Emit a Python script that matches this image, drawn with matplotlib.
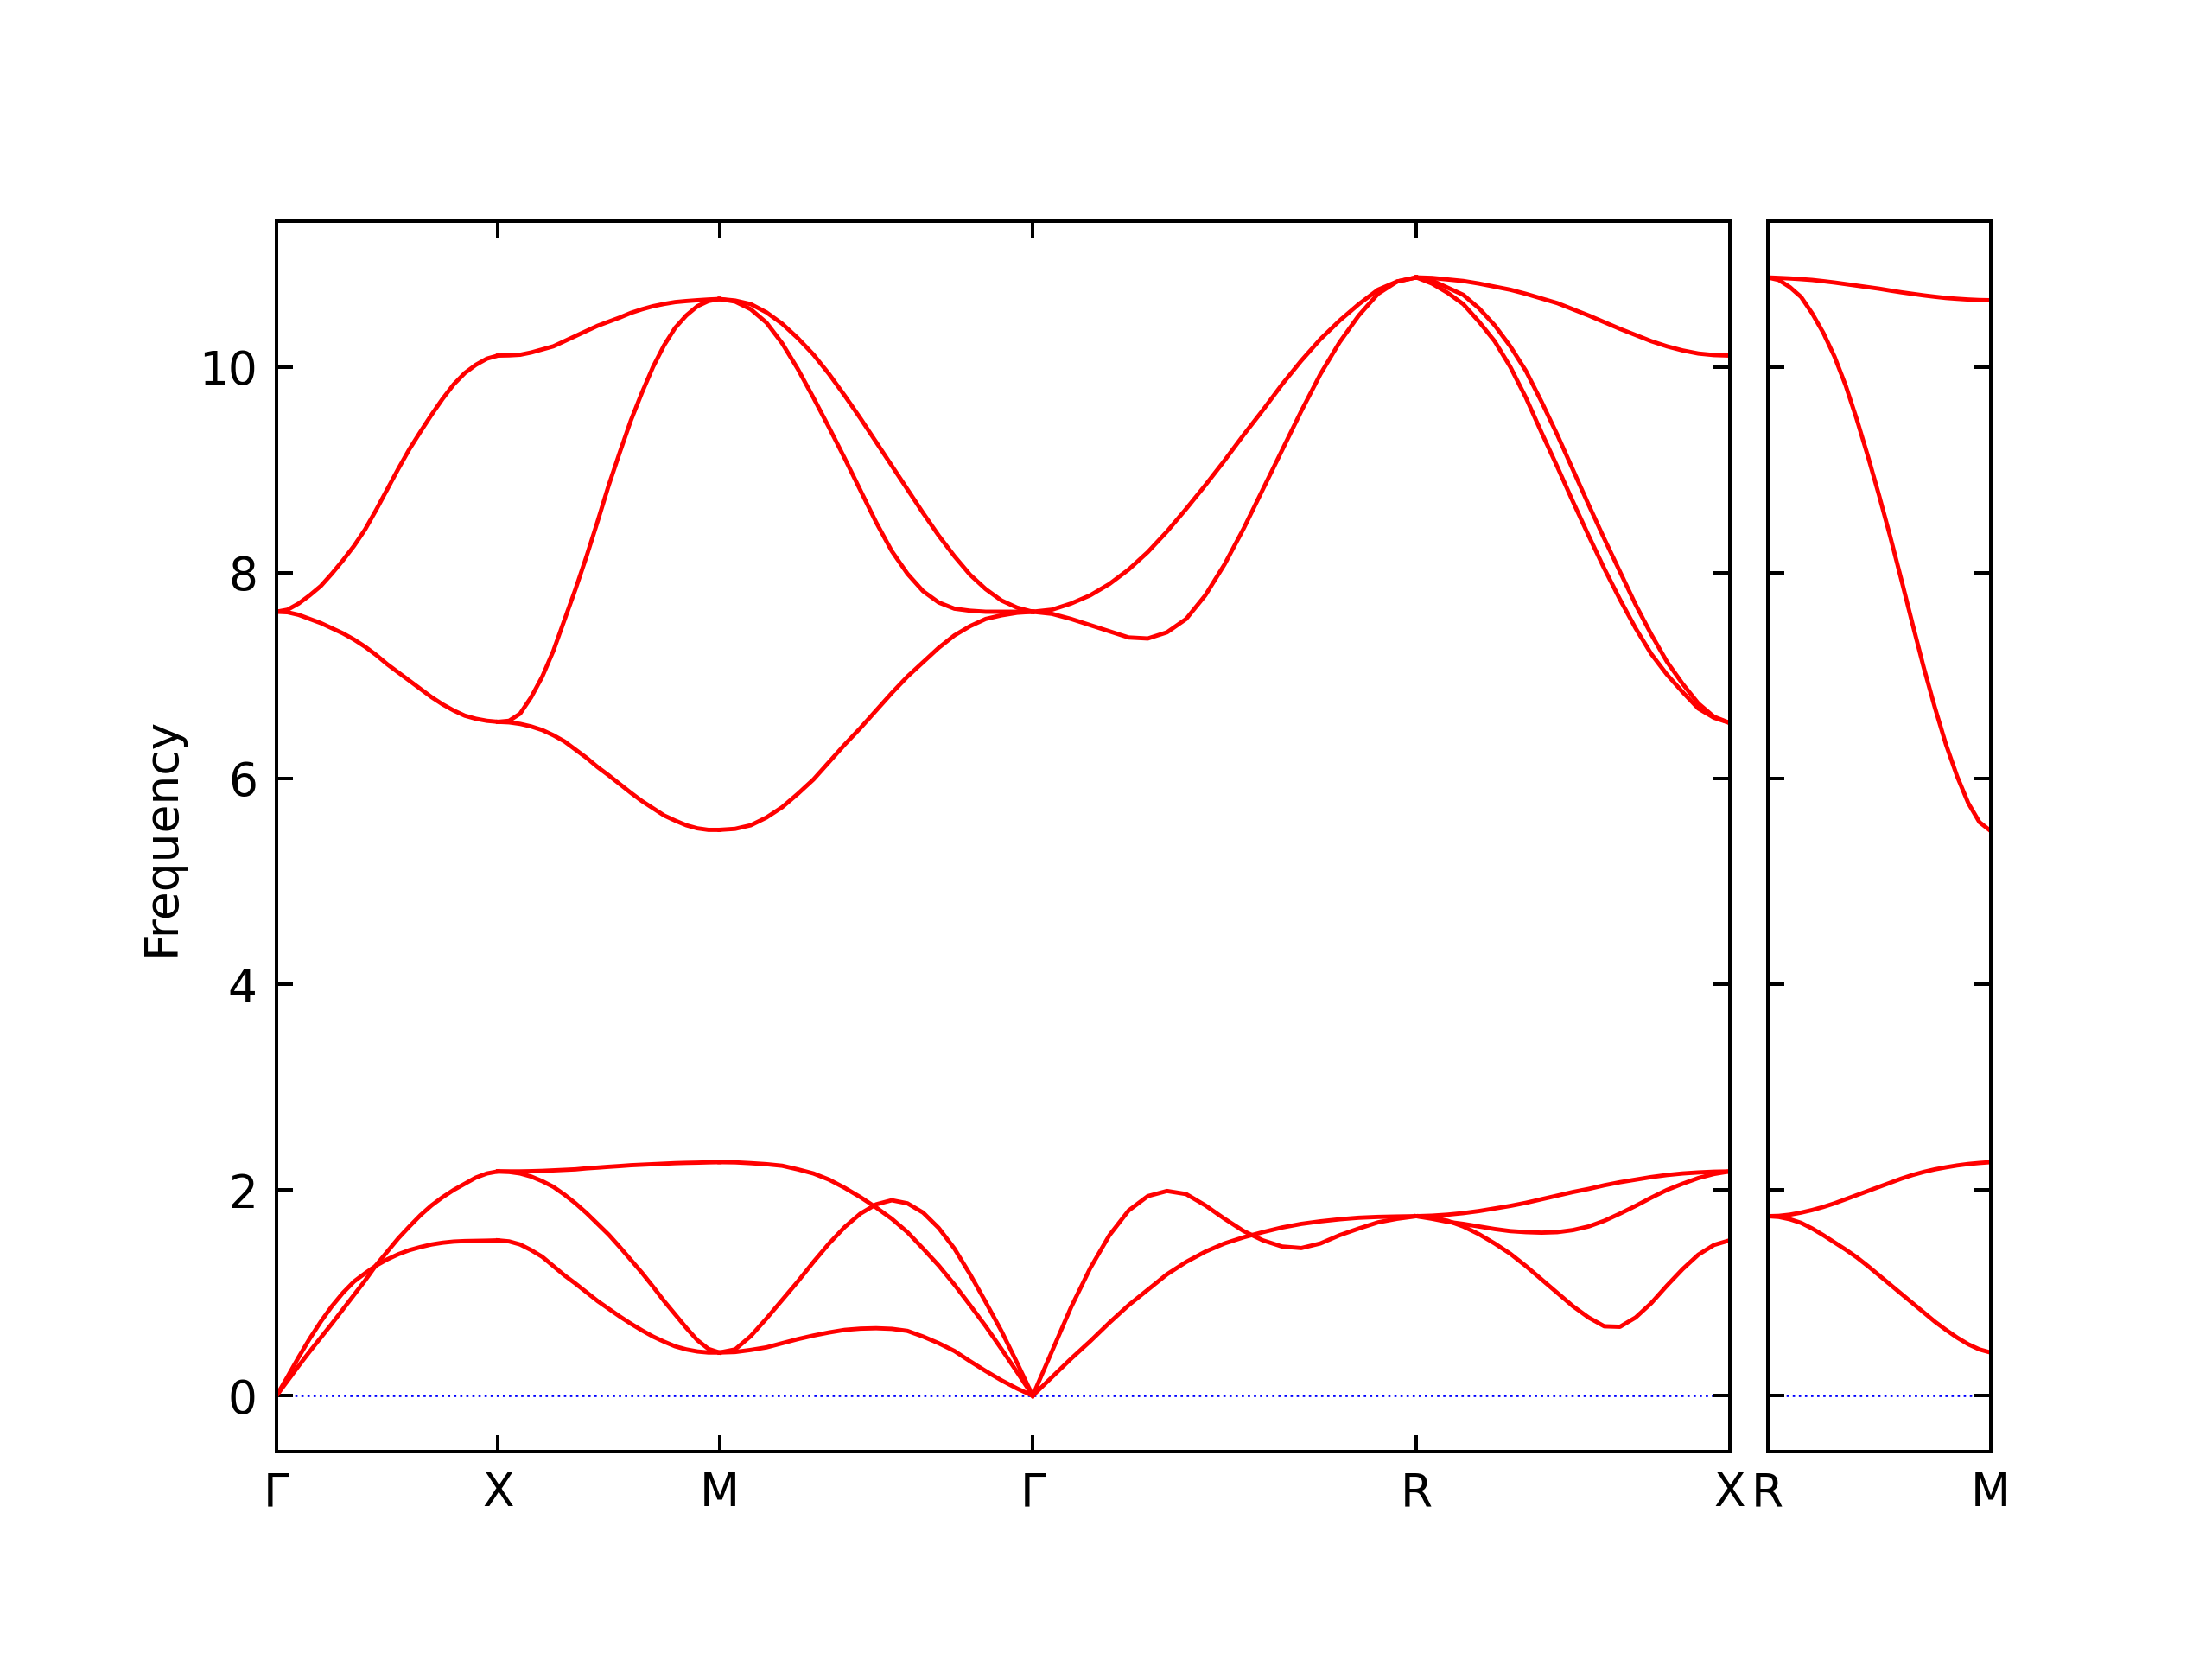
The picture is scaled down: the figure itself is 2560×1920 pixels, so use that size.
import matplotlib
matplotlib.use("Agg")
import matplotlib.pyplot as plt

# ---------------- data ----------------
labels_main = ["Γ", "X", "M", "Γ", "R", "X"]
labels_side = ["R", "M"]
seg_len_main = [0.5, 0.5, 0.7071, 0.8660, 0.7071]   # Γ-X, X-M, M-Γ, Γ-R, R-X
seg_len_side = [0.5]                                # R-M

# fractional position along each path segment
T = [0, .05, .1, .15, .2, .25, .3, .35, .4, .45, .5, .55, .6, .65, .7, .75, .8, .85, .9, .95, 1]

# Γ-X
GX_o1 = [7.62, 7.64, 7.70, 7.78, 7.87, 7.99, 8.12, 8.26, 8.42, 8.61, 8.81,
         9.01, 9.20, 9.37, 9.535, 9.69, 9.83, 9.94, 10.02, 10.08, 10.11]
GX_o2 = [7.62, 7.615, 7.59, 7.55, 7.51, 7.46, 7.41, 7.35, 7.28, 7.20, 7.11,
         7.03, 6.95, 6.87, 6.79, 6.72, 6.66, 6.61, 6.58, 6.56, 6.55]
GX_a1 = [0, 0.185, 0.375, 0.555, 0.72, 0.87, 1.00, 1.11, 1.19, 1.265, 1.325,
         1.375, 1.415, 1.445, 1.47, 1.487, 1.498, 1.503, 1.505, 1.507, 1.51]
GX_a2 = [0, 0.145, 0.29, 0.43, 0.565, 0.70, 0.84, 0.98, 1.12, 1.27, 1.40,
         1.53, 1.645, 1.755, 1.85, 1.93, 2.00, 2.06, 2.12, 2.16, 2.18]

# X-M
XM_o1 = [10.11, 10.112, 10.118, 10.14, 10.17, 10.20, 10.25, 10.30, 10.35, 10.40, 10.44,
         10.48, 10.525, 10.56, 10.59, 10.612, 10.63, 10.64, 10.648, 10.655, 10.66]
XM_o2 = [6.55, 6.56, 6.63, 6.79, 6.99, 7.24, 7.54, 7.84, 8.16, 8.50, 8.85,
         9.17, 9.48, 9.75, 10.00, 10.21, 10.38, 10.50, 10.59, 10.64, 10.66]
XM_o3 = [6.55, 6.545, 6.53, 6.505, 6.47, 6.42, 6.36, 6.28, 6.20, 6.11, 6.03,
         5.945, 5.86, 5.78, 5.71, 5.64, 5.59, 5.545, 5.515, 5.50, 5.50]
XM_a1 = [2.18, 2.18, 2.18, 2.182, 2.185, 2.19, 2.195, 2.20, 2.21, 2.217, 2.225,
         2.232, 2.24, 2.245, 2.25, 2.255, 2.26, 2.263, 2.265, 2.268, 2.27]
XM_a2 = [2.18, 2.175, 2.16, 2.13, 2.085, 2.03, 1.955, 1.87, 1.775, 1.67, 1.565,
         1.445, 1.32, 1.195, 1.06, 0.92, 0.79, 0.66, 0.54, 0.455, 0.42]
XM_a3 = [1.51, 1.50, 1.47, 1.415, 1.35, 1.26, 1.17, 1.09, 1.005, 0.92, 0.845,
         0.77, 0.70, 0.635, 0.575, 0.525, 0.48, 0.45, 0.43, 0.42, 0.42]

# M-Γ
MG_o1 = [10.66, 10.645, 10.61, 10.53, 10.42, 10.28, 10.12, 9.93, 9.72, 9.50, 9.27,
         9.04, 8.81, 8.58, 8.36, 8.16, 7.98, 7.84, 7.73, 7.66, 7.62]
MG_o2 = [10.66, 10.635, 10.56, 10.43, 10.23, 9.98, 9.70, 9.41, 9.11, 8.80, 8.49,
         8.21, 7.99, 7.82, 7.71, 7.65, 7.63, 7.62, 7.62, 7.62, 7.62]
MG_o3 = [5.50, 5.51, 5.545, 5.62, 5.72, 5.85, 5.99, 6.16, 6.33, 6.49, 6.66,
         6.83, 6.99, 7.13, 7.27, 7.39, 7.48, 7.55, 7.585, 7.61, 7.62]
MG_a1 = [2.27, 2.268, 2.26, 2.25, 2.235, 2.20, 2.16, 2.10, 2.02, 1.93, 1.83,
         1.72, 1.59, 1.43, 1.265, 1.08, 0.88, 0.675, 0.455, 0.23, 0]
MG_a2 = [0.42, 0.45, 0.58, 0.75, 0.93, 1.11, 1.30, 1.48, 1.64, 1.77, 1.86,
         1.90, 1.87, 1.78, 1.63, 1.43, 1.18, 0.91, 0.63, 0.32, 0]
MG_a3 = [0.42, 0.425, 0.445, 0.47, 0.51, 0.55, 0.585, 0.615, 0.64, 0.652, 0.656,
         0.65, 0.63, 0.575, 0.51, 0.435, 0.335, 0.24, 0.15, 0.07, 0]

# Γ-R
GR_o1 = [7.62, 7.64, 7.70, 7.78, 7.89, 8.03, 8.20, 8.40, 8.62, 8.85, 9.09,
         9.34, 9.58, 9.83, 10.06, 10.27, 10.45, 10.61, 10.75, 10.83, 10.87]
GR_o2 = [7.62, 7.60, 7.55, 7.49, 7.43, 7.37, 7.36, 7.42, 7.55, 7.78, 8.08,
         8.43, 8.81, 9.19, 9.57, 9.93, 10.24, 10.50, 10.71, 10.83, 10.87]
GR_a1 = [0, 0.43, 0.86, 1.24, 1.56, 1.80, 1.94, 1.99, 1.96, 1.85, 1.72,
         1.60, 1.51, 1.45, 1.435, 1.48, 1.56, 1.625, 1.685, 1.72, 1.745]
GR_a2 = [0, 0.18, 0.36, 0.53, 0.71, 0.88, 1.03, 1.18, 1.30, 1.40, 1.48,
         1.54, 1.59, 1.635, 1.67, 1.695, 1.715, 1.73, 1.738, 1.742, 1.745]

# R-X
RX_o1 = [10.87, 10.865, 10.85, 10.835, 10.81, 10.78, 10.75, 10.71, 10.665, 10.62, 10.56,
         10.50, 10.435, 10.37, 10.31, 10.25, 10.20, 10.16, 10.13, 10.115, 10.11]
RX_o2 = [10.87, 10.84, 10.77, 10.70, 10.57, 10.405, 10.20, 9.96, 9.66, 9.34, 9.00,
         8.66, 8.33, 8.01, 7.69, 7.40, 7.135, 6.92, 6.73, 6.60, 6.54]
RX_o3 = [10.87, 10.81, 10.72, 10.61, 10.44, 10.25, 10.00, 9.70, 9.36, 9.03, 8.69,
         8.36, 8.04, 7.74, 7.46, 7.21, 7.01, 6.84, 6.68, 6.59, 6.54]
RX_a1 = [1.745, 1.75, 1.76, 1.775, 1.795, 1.82, 1.845, 1.875, 1.91, 1.945, 1.98,
         2.01, 2.045, 2.075, 2.10, 2.125, 2.145, 2.16, 2.17, 2.177, 2.18]
RX_a2 = [1.745, 1.72, 1.69, 1.67, 1.645, 1.62, 1.60, 1.59, 1.585, 1.59, 1.61,
         1.645, 1.70, 1.77, 1.845, 1.925, 2.00, 2.06, 2.115, 2.155, 2.18]
RX_a3 = [1.745, 1.735, 1.70, 1.645, 1.57, 1.48, 1.38, 1.26, 1.13, 1.00, 0.87,
         0.76, 0.675, 0.67, 0.76, 0.90, 1.07, 1.23, 1.37, 1.465, 1.51]

# R-M
RM_o1 = [10.87, 10.865, 10.86, 10.853, 10.845, 10.833, 10.82, 10.805, 10.79, 10.775, 10.76,
         10.742, 10.725, 10.71, 10.695, 10.682, 10.67, 10.662, 10.655, 10.65, 10.648]
RM_o2 = [10.87, 10.845, 10.775, 10.68, 10.52, 10.33, 10.10, 9.82, 9.49, 9.13, 8.75,
         8.35, 7.93, 7.50, 7.08, 6.69, 6.33, 6.02, 5.76, 5.575, 5.49]
RM_a1 = [1.745, 1.748, 1.76, 1.78, 1.805, 1.835, 1.87, 1.91, 1.95, 1.99, 2.03,
         2.07, 2.11, 2.145, 2.175, 2.20, 2.22, 2.238, 2.252, 2.262, 2.27]
RM_a2 = [1.745, 1.738, 1.715, 1.68, 1.625, 1.56, 1.49, 1.42, 1.345, 1.26, 1.17,
         1.08, 0.99, 0.90, 0.81, 0.72, 0.64, 0.565, 0.50, 0.45, 0.42]

main_segments = [
    [GX_o1, GX_o2, GX_a1, GX_a2],
    [XM_o1, XM_o2, XM_o3, XM_a1, XM_a2, XM_a3],
    [MG_o1, MG_o2, MG_o3, MG_a1, MG_a2, MG_a3],
    [GR_o1, GR_o2, GR_a1, GR_a2],
    [RX_o1, RX_o2, RX_o3, RX_a1, RX_a2, RX_a3],
]
side_segments = [
    [RM_o1, RM_o2, RM_a1, RM_a2],
]

# ---------------- plot ----------------
plt.rcParams['font.family'] = ['DejaVu Sans']
fig = plt.figure(figsize=(8, 6), dpi=320)
ax1 = fig.add_axes([0.125, 0.125, 0.6569, 0.7415])
ax2 = fig.add_axes([0.7991, 0.125, 0.1008, 0.7415], sharey=ax1)

LINE = dict(color='red', lw=1.1, solid_joinstyle='round')


def draw(ax, segments, lengths, labels):
    start = 0.0
    ticks = [0.0]
    for bands, L in zip(segments, lengths):
        xs = [start + t * L for t in T]
        for b in bands:
            ax.plot(xs, b, **LINE)
        start += L
        ticks.append(start)
    ax.set_xlim(0, start)
    ax.axhline(0, color='blue', ls=':', lw=0.6, zorder=0)
    ax.set_xticks(ticks)
    ax.set_xticklabels(labels)
    ax.tick_params(direction='in', top=True, right=True, length=4.3, width=0.9,
                   labelsize=12, pad=5)
    for s in ax.spines.values():
        s.set_linewidth(0.9)


draw(ax1, main_segments, seg_len_main, labels_main)
draw(ax2, side_segments, seg_len_side, labels_side)

ax1.set_yticks([0, 2, 4, 6, 8, 10])
ax1.margins(y=0.05)
ax1.set_ylabel("Frequency", fontsize=12)
ax2.tick_params(labelleft=False)

fig.savefig("out.png", dpi=320)
